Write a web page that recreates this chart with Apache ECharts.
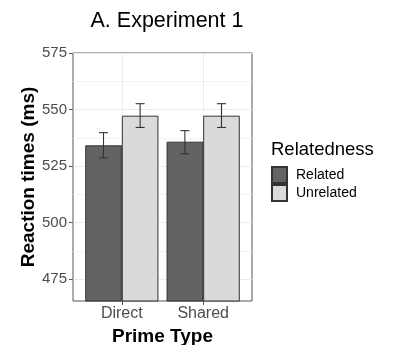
<!DOCTYPE html>
<html>
<head>
    <meta charset="utf-8">
    <title>Experiment 1</title>
    <script src="https://cdn.jsdelivr.net/npm/echarts@6/dist/echarts.min.js"></script>
</head>
<body style="margin:0">
    <div id="main" style="width: 398px;height:345px;"></div>
    <script type="text/javascript">
    // data
    var primeTypes = ['Direct', 'Shared'];
    var relatedMean = [534.2, 535.8];
    var relatedLow = [528.7, 530.5];
    var relatedHigh = [539.8, 540.7];
    var unrelatedMean = [547.3, 547.3];
    var unrelatedLow = [542.1, 542.1];
    var unrelatedHigh = [552.6, 552.6];
    var yTicks = [475, 500, 525, 550, 575];
    var yMinor = [487.5, 512.5, 537.5, 562.5];

    var myChart = echarts.init(document.getElementById('main'));
    var font = 'Liberation Sans, Arial, sans-serif';
    var halfBar = 0.225;

    function toBars(vals) {
        return vals.map(function (v, i) { return [i + 1, v]; });
    }
    function toErr(lo, hi, off) {
        return lo.map(function (v, i) { return [i + 1 + off, v, hi[i]]; });
    }

    function renderErr(params, api) {
        var top = api.coord([api.value(0), api.value(2)]);
        var bot = api.coord([api.value(0), api.value(1)]);
        var cap = 4.5;
        var style = { stroke: '#333', lineWidth: 1.1 };
        return {
            type: 'group',
            children: [
                { type: 'line', shape: { x1: top[0], y1: top[1], x2: bot[0], y2: bot[1] }, style: style },
                { type: 'line', shape: { x1: top[0] - cap, y1: top[1], x2: top[0] + cap, y2: top[1] }, style: style },
                { type: 'line', shape: { x1: bot[0] - cap, y1: bot[1], x2: bot[0] + cap, y2: bot[1] }, style: style }
            ]
        };
    }

    myChart.setOption({
        animation: false,
        title: {
            text: 'A. Experiment 1',
            left: 162, top: 5, textAlign: 'center',
            textStyle: { fontFamily: font, fontSize: 21.5, fontWeight: 'normal', color: '#000' }
        },
        legend: {
            data: ['Related', 'Unrelated'],
            orient: 'vertical',
            left: 271, top: 166,
            itemWidth: 15, itemHeight: 16, itemGap: 0,
            icon: 'rect',
            padding: 0,
            textStyle: { fontFamily: font, fontSize: 14, color: '#000', padding: [0, 0, 0, 4] }
        },
        graphic: [{
            type: 'text', left: 271, top: 140,
            style: { text: 'Relatedness', fontFamily: font, fontSize: 18.5, fill: '#000' }
        }],
        grid: {
            left: 73, right: 146, top: 53, bottom: 44,
            outerBoundsMode: 'none',
            show: true, borderColor: '#555', borderWidth: 1, backgroundColor: '#fff'
        },
        xAxis: {
            type: 'value', min: 0.4, max: 2.6,
            name: 'Prime Type', nameLocation: 'middle', nameGap: 21,
            nameTextStyle: { fontFamily: font, fontSize: 19, fontWeight: 'bold', color: '#000' },
            axisLine: { show: false },
            axisTick: { show: true, length: 4, customValues: [1, 2], lineStyle: { color: '#555' } },
            axisLabel: {
                customValues: [1, 2], margin: 5,
                fontFamily: font, fontSize: 16, color: '#4d4d4d',
                formatter: function (v) { return primeTypes[Math.round(v) - 1]; }
            },
            splitLine: { show: true, lineStyle: { color: '#ebebeb', width: 1 } }
        },
        yAxis: [{
            type: 'value', min: 465.4, max: 575,
            name: 'Reaction times (ms)', nameLocation: 'middle', nameGap: 29,
            nameTextStyle: { fontFamily: font, fontSize: 19, fontWeight: 'bold', color: '#000' },
            axisLine: { show: false },
            axisTick: { show: true, length: 4, customValues: yTicks, lineStyle: { color: '#555' } },
            axisLabel: { customValues: yTicks, margin: 6, fontFamily: font, fontSize: 15, color: '#4d4d4d' },
            splitLine: { show: true, lineStyle: { color: '#ebebeb', width: 1 } }
        }, {
            type: 'value', min: 465.4, max: 575, position: 'left',
            axisLine: { show: false },
            axisTick: { show: false, customValues: yMinor },
            axisLabel: { show: false, customValues: yMinor },
            splitLine: { show: true, lineStyle: { color: '#f3f3f3', width: 1 } }
        }],
        series: [{
            name: 'Related', type: 'bar', barWidth: '45%', barGap: '0%',
            itemStyle: { color: '#636363', borderColor: '#333', borderWidth: 1 },
            data: toBars(relatedMean), z: 3
        }, {
            name: 'Unrelated', type: 'bar', barWidth: '45%', barGap: '0%',
            itemStyle: { color: '#dadada', borderColor: '#333', borderWidth: 1 },
            data: toBars(unrelatedMean), z: 3
        }, {
            type: 'custom', renderItem: renderErr, z: 5,
            encode: { x: 0, y: [1, 2] },
            data: toErr(relatedLow, relatedHigh, -halfBar)
        }, {
            type: 'custom', renderItem: renderErr, z: 5,
            encode: { x: 0, y: [1, 2] },
            data: toErr(unrelatedLow, unrelatedHigh, halfBar)
        }]
    });
    </script>
</body>
</html>
